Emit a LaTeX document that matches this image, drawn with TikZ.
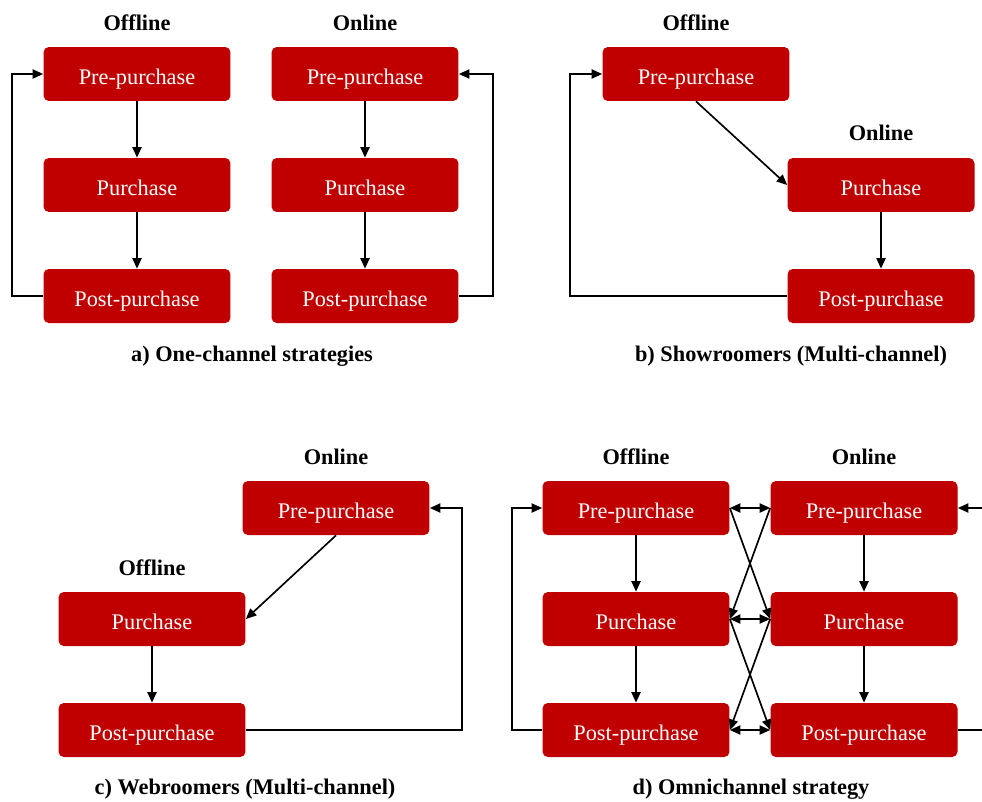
\documentclass[tikz,border=0pt]{standalone}
\usepackage{fontspec}
\setmainfont{Liberation Serif}
\usepackage{tikz}
\usetikzlibrary{arrows.meta}
\definecolor{stagered}{HTML}{C00000}

\begin{document}
\begin{tikzpicture}[
    x=0.02cm, y=-0.02cm,
    stage/.style={rectangle, fill=stagered, rounded corners=3pt, minimum width=3.74cm, minimum height=1.08cm, text=white, text height=11.5pt, text depth=0pt, font=\fontsize{12.7}{15}\selectfont},
    head/.style={font=\fontsize{12.7}{15}\selectfont\bfseries, text height=10pt, text depth=0pt},
    caption/.style={font=\fontsize{12.7}{15}\selectfont\bfseries, text height=9pt, text depth=0pt},
    flow/.style={-{Triangle[length=6pt,width=5.2pt]}, line width=0.95pt},
    twoway/.style={{Triangle[length=6pt,width=5.2pt]}-{Triangle[length=6pt,width=5.2pt]}, line width=0.95pt}
]
    \useasboundingbox (0,0) rectangle (982,801);

    % a) One-channel
    \node[head] (aoff) at (137,22) {Offline};
    \node[head] (aon) at (365,22) {Online};
    \node[stage] (aoffpre) at (137,74) {Pre-purchase};
    \node[stage] (aoffbuy) at (137,185) {Purchase};
    \node[stage] (aoffpost) at (137,296) {Post-purchase};
    \node[stage] (aonpre) at (365,74) {Pre-purchase};
    \node[stage] (aonbuy) at (365,185) {Purchase};
    \node[stage] (aonpost) at (365,296) {Post-purchase};
    \draw[flow] (aoffpre) -- (aoffbuy);
    \draw[flow] (aoffbuy) -- (aoffpost);
    \draw[flow] (aoffpost.west) -- ++(-31,0) |- (aoffpre.west);
    \draw[flow] (aonpre) -- (aonbuy);
    \draw[flow] (aonbuy) -- (aonpost);
    \draw[flow] (aonpost.east) -- ++(34,0) |- (aonpre.east);
    \node[caption] (acap) at (252,354) {a) One-channel strategies};

    % b) Showroomers
    \node[head] (boff) at (696,22) {Offline};
    \node[head] (bon) at (881,132) {Online};
    \node[stage] (bpre) at (696,74) {Pre-purchase};
    \node[stage] (bbuy) at (881,185) {Purchase};
    \node[stage] (bpost) at (881,296) {Post-purchase};
    \draw[flow] (bpre.south) -- (bbuy.west);
    \draw[flow] (bbuy) -- (bpost);
    \draw[flow] (bpost.west) -- (570,296) |- (bpre.west);
    \node[caption] (bcap) at (791,354) {b) Showroomers (Multi-channel)};

    % c) Webroomers
    \node[head] (con) at (336,456) {Online};
    \node[head] (coff) at (152,567) {Offline};
    \node[stage] (cpre) at (336,508) {Pre-purchase};
    \node[stage] (cbuy) at (152,619) {Purchase};
    \node[stage] (cpost) at (152,730) {Post-purchase};
    \draw[flow] (cpre.south) -- (cbuy.east);
    \draw[flow] (cbuy) -- (cpost);
    \draw[flow] (cpost.east) -- (462,730) |- (cpre.east);
    \node[caption] (ccap) at (245,787) {c) Webroomers (Multi-channel)};

    % d) Omnichannel
    \node[head] (doff) at (636,456) {Offline};
    \node[head] (don) at (864,456) {Online};
    \node[stage] (doffpre) at (636,508) {Pre-purchase};
    \node[stage] (doffbuy) at (636,619) {Purchase};
    \node[stage] (doffpost) at (636,730) {Post-purchase};
    \node[stage] (donpre) at (864,508) {Pre-purchase};
    \node[stage] (donbuy) at (864,619) {Purchase};
    \node[stage] (donpost) at (864,730) {Post-purchase};
    \draw[flow] (doffpre) -- (doffbuy);
    \draw[flow] (doffbuy) -- (doffpost);
    \draw[flow] (donpre) -- (donbuy);
    \draw[flow] (donbuy) -- (donpost);
    \draw[twoway] (doffpre.east) -- (donpre.west);
    \draw[twoway] (doffbuy.east) -- (donbuy.west);
    \draw[twoway] (doffpost.east) -- (donpost.west);
    \draw[flow] (doffpre.east) -- (donbuy.west);
    \draw[flow] (donpre.west) -- (doffbuy.east);
    \draw[flow] (doffbuy.east) -- (donpost.west);
    \draw[flow] (donbuy.west) -- (doffpost.east);
    \draw[flow] (doffpost.west) -- (512,730) |- (doffpre.west);
    \draw[flow] (donpost.east) -- (1000,730) |- (donpre.east);
    \node[caption] (dcap) at (751,787) {d) Omnichannel strategy};
\end{tikzpicture}
\end{document}
